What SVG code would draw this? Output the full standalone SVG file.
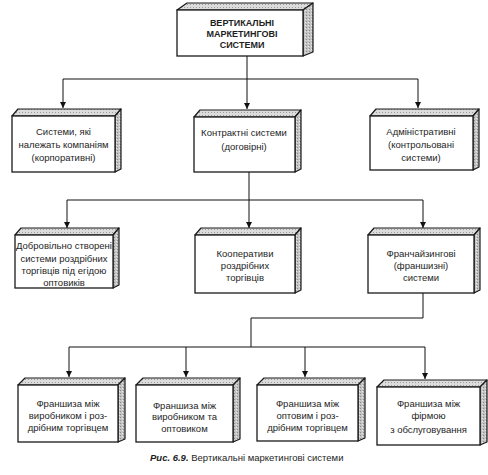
<svg xmlns="http://www.w3.org/2000/svg" width="488" height="475" viewBox="0 0 488 475">
<defs>
<marker id="arr" markerUnits="userSpaceOnUse" markerWidth="8" markerHeight="8" refX="6" refY="3" orient="auto">
<path d="M0,0 L6,3 L0,6 Z" fill="#111"/>
</marker>
<pattern id="dots" width="3" height="3" patternUnits="userSpaceOnUse">
<rect width="3" height="3" fill="#c4c4c4"/>
<rect x="0" y="0" width="1" height="1" fill="#8a8a8a"/>
<rect x="2" y="1" width="1" height="1" fill="#e8e8e8"/>
</pattern>
<pattern id="hatch" width="3" height="3" patternUnits="userSpaceOnUse">
<rect width="3" height="3" fill="#dcdcdc"/>
<rect x="1" y="1" width="1" height="1" fill="#9a9a9a"/>
</pattern>
</defs>
<style>
.front{fill:#fff;stroke:#1a1a1a;stroke-width:1.3}
.top{fill:url(#hatch);stroke:#1a1a1a;stroke-width:1.2;stroke-linejoin:round}
.side{fill:url(#dots);stroke:#1a1a1a;stroke-width:1.2;stroke-linejoin:round}
text{font-family:"Liberation Sans",Arial,sans-serif;font-size:9.5px;fill:#1e1e1e;text-anchor:middle}
.b{font-weight:bold;font-size:9px}
.ln{fill:none;stroke:#111;stroke-width:1}
.cap{text-anchor:start;font-size:9.5px}
</style>
<rect width="488" height="475" fill="#fff"/>

<g id="connectors">
<path class="ln" d="M247,56 V79 M63,79 H418"/>
<path class="ln" d="M63,79 V108" marker-end="url(#arr)"/>
<path class="ln" d="M247,79 V109" marker-end="url(#arr)"/>
<path class="ln" d="M418,79 V108" marker-end="url(#arr)"/>
<path class="ln" d="M249,172 V200 M67,200 H423"/>
<path class="ln" d="M67,200 V228" marker-end="url(#arr)"/>
<path class="ln" d="M249,200 V228" marker-end="url(#arr)"/>
<path class="ln" d="M423,200 V228" marker-end="url(#arr)"/>
<path class="ln" d="M423,293 V318 H251 V347 M69,347 H425"/>
<path class="ln" d="M69,347 V377" marker-end="url(#arr)"/>
<path class="ln" d="M186,347 V377" marker-end="url(#arr)"/>
<path class="ln" d="M305,347 V377" marker-end="url(#arr)"/>
<path class="ln" d="M425,347 V379" marker-end="url(#arr)"/>
</g>

<g id="n0">
<polygon class="top" points="177,10 187,3 313,3 303,10"/>
<polygon class="side" points="303,10 313,3 313,52 303,56"/>
<rect class="front" x="177" y="10" width="126" height="46"/>
<text class="b" x="242" y="25.5">ВЕРТИКАЛЬНІ</text>
<text class="b" x="242" y="36.5">МАРКЕТИНГОВІ</text>
<text class="b" x="242" y="47.5">СИСТЕМИ</text>
</g>

<g id="n1">
<polygon class="top" points="12,116 18,109 121,109 115,116"/>
<polygon class="side" points="115,116 121,109 121,169 115,172"/>
<rect class="front" x="12" y="116" width="103" height="56"/>
<text x="63.5" y="134.5">Системи, які</text>
<text x="63.5" y="147.5">належать компаніям</text>
<text x="63.5" y="160.5">(корпоративні)</text>
</g>

<g id="n2">
<polygon class="top" points="194,117 200,110 301,110 295,117"/>
<polygon class="side" points="295,117 301,110 301,169 295,172"/>
<rect class="front" x="194" y="117" width="101" height="55"/>
<text x="244" y="136">Контрактні системи</text>
<text x="244" y="149.5">(договірні)</text>
</g>

<g id="n3">
<polygon class="top" points="370,116 376,109 479,109 473,116"/>
<polygon class="side" points="473,116 479,109 479,167 473,170"/>
<rect class="front" x="370" y="116" width="103" height="54"/>
<text x="421" y="134.5">Адміністративні</text>
<text x="421" y="147.5">(контрольовані</text>
<text x="421" y="160.5">системи)</text>
</g>

<g id="n4">
<polygon class="top" points="15,235 21,228 119,228 113,235"/>
<polygon class="side" points="113,235 119,228 119,285 113,288"/>
<rect class="front" x="15" y="235" width="98" height="53"/>
<text x="64" y="248.5">Добровільно створені</text>
<text x="64" y="261.5">системи роздрібних</text>
<text x="64" y="274">торгівців під егідою</text>
<text x="64" y="286">оптовиків</text>
</g>

<g id="n5">
<polygon class="top" points="195,235 201,228 301,228 295,235"/>
<polygon class="side" points="295,235 301,228 301,290 295,293"/>
<rect class="front" x="195" y="235" width="100" height="58"/>
<text x="245" y="256.5">Кооперативи</text>
<text x="245" y="268.5">роздрібних</text>
<text x="245" y="280.5">торгівців</text>
</g>

<g id="n6">
<polygon class="top" points="368,235 374,228 480,228 474,235"/>
<polygon class="side" points="474,235 480,228 480,290 474,293"/>
<rect class="front" x="368" y="235" width="106" height="58"/>
<text x="421" y="256.5">Франчайзингові</text>
<text x="421" y="268.5">(франшизні)</text>
<text x="421" y="280.5">системи</text>
</g>

<g id="n7">
<polygon class="top" points="18,385 25,378 125,378 118,385"/>
<polygon class="side" points="118,385 125,378 125,439 118,442"/>
<rect class="front" x="18" y="385" width="100" height="57"/>
<text x="68" y="406.5">Франшиза між</text>
<text x="68" y="418.5">виробником і роз-</text>
<text x="68" y="430.5">дрібним торгівцем</text>
</g>

<g id="n8">
<polygon class="top" points="136,385 143,378 240,378 233,385"/>
<polygon class="side" points="233,385 240,378 240,439 233,442"/>
<rect class="front" x="136" y="385" width="97" height="57"/>
<text x="184.5" y="408.5">Франшиза між</text>
<text x="184.5" y="420">виробником та</text>
<text x="184.5" y="431.5">оптовиком</text>
</g>

<g id="n9">
<polygon class="top" points="257,385 264,378 365,378 358,385"/>
<polygon class="side" points="358,385 365,378 365,438 358,441"/>
<rect class="front" x="257" y="385" width="101" height="56"/>
<text x="307.5" y="406.5">Франшиза між</text>
<text x="307.5" y="418.5">оптовим і роз-</text>
<text x="307.5" y="430.5">дрібним торгівцем</text>
</g>

<g id="n10">
<polygon class="top" points="377,387 384,380 487,380 480,387"/>
<polygon class="side" points="480,387 487,380 487,442 480,445"/>
<rect class="front" x="377" y="387" width="103" height="58"/>
<text x="428.5" y="406.5">Франшиза між</text>
<text x="428.5" y="419">фірмою</text>
<text x="428.5" y="433">з обслуговування</text>
</g>

<text class="cap" x="150" y="461"><tspan font-weight="bold" font-style="italic">Рис. 6.9.</tspan> Вертикальні маркетингові системи</text>
</svg>
